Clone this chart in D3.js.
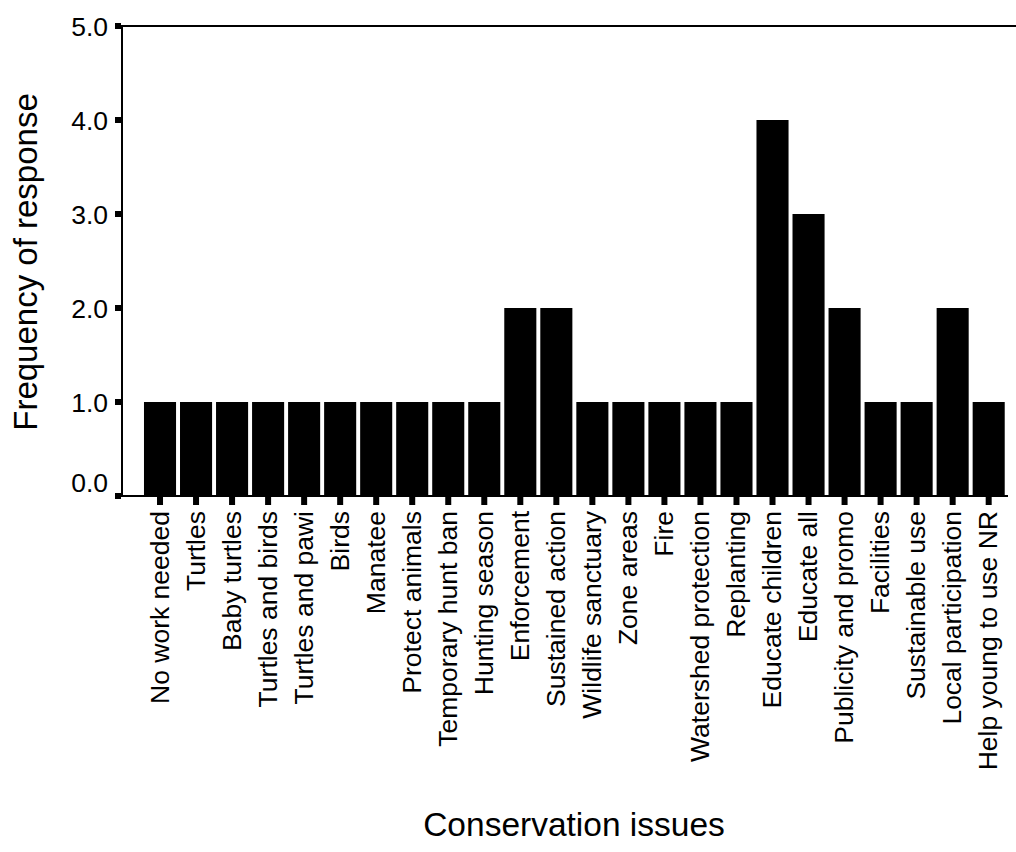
<!DOCTYPE html>
<html>
<head>
<meta charset="utf-8">
<script src="https://cdn.jsdelivr.net/npm/d3@7"></script>
<style>
  html, body { margin: 0; padding: 0; background: #fff; }
  svg { display: block; font-family: "Liberation Sans", Arial, sans-serif; }
</style>
</head>
<body>
<svg id="chart" width="1016" height="852"></svg>
<script>
const categories = [
  "No work needed", "Turtles", "Baby turtles", "Turtles and birds", "Turtles and pawi",
  "Birds", "Manatee", "Protect animals", "Temporary hunt ban", "Hunting season",
  "Enforcement", "Sustained action", "Wildlife sanctuary", "Zone areas", "Fire",
  "Watershed protection", "Replanting", "Educate children", "Educate all",
  "Publicity and promo", "Facilities", "Sustainable use", "Local participation",
  "Help young to use NR"
];
const values = [1, 1, 1, 1, 1, 1, 1, 1, 1, 1, 2, 2, 1, 1, 1, 1, 1, 4, 3, 2, 1, 1, 2, 1];
const yTicks = [0, 1, 2, 3, 4, 5];
const yTickLabels = ["0.0", "1.0", "2.0", "3.0", "4.0", "5.0"];
const xTitle = "Conservation issues";
const yTitle = "Frequency of response";

const svg = d3.select("#chart");
const axisX = 122, baseY = 496, topY = 26;

const x = d3.scaleBand().domain(categories).range([142, 1006.7]).paddingInner(0.11).paddingOuter(0.055);
const y = d3.scaleLinear().domain([0, 5]).range([baseY, topY]);

// bars
svg.append("g").selectAll("rect").data(categories).join("rect")
  .attr("x", d => x(d))
  .attr("width", x.bandwidth())
  .attr("y", (d, i) => y(values[i]))
  .attr("height", (d, i) => y(0) - y(values[i]))
  .attr("fill", "#000");

// top frame line
svg.append("line").attr("x1", axisX).attr("x2", 1016).attr("y1", topY).attr("y2", topY)
  .attr("stroke", "#000").attr("stroke-width", 2);
// baseline
svg.append("line").attr("x1", axisX).attr("x2", 1008).attr("y1", baseY).attr("y2", baseY)
  .attr("stroke", "#000").attr("stroke-width", 2);
// y axis line
svg.append("line").attr("x1", axisX).attr("x2", axisX).attr("y1", topY - 1).attr("y2", baseY + 1)
  .attr("stroke", "#000").attr("stroke-width", 2);

// y ticks (square marks)
const yg = svg.append("g");
yTicks.forEach((t, i) => {
  yg.append("rect").attr("x", axisX - 7).attr("y", y(t) - 3).attr("width", 6).attr("height", 6).attr("fill", "#000");
  yg.append("text").attr("x", 108).attr("y", y(t) - (t === 0 ? 14 : 0)).attr("dy", "0.36em")
    .attr("text-anchor", "end").attr("font-size", 26.5).text(yTickLabels[i]);
});

// x ticks and labels
const xg = svg.append("g");
categories.forEach(c => {
  const cx = x(c) + x.bandwidth() / 2;
  xg.append("rect").attr("x", cx - 3).attr("y", baseY + 1).attr("width", 6).attr("height", 8).attr("fill", "#000");
  xg.append("text").attr("transform", `translate(${cx},511) rotate(-90)`)
    .attr("dy", "0.33em").attr("text-anchor", "end").attr("font-size", 26.5).text(c);
});

// titles
svg.append("text").attr("x", 574).attr("y", 836).attr("text-anchor", "middle")
  .attr("font-size", 33.5).text(xTitle);
svg.append("text").attr("transform", "translate(37,262) rotate(-90)").attr("text-anchor", "middle")
  .attr("font-size", 33).text(yTitle);
</script>
</body>
</html>
